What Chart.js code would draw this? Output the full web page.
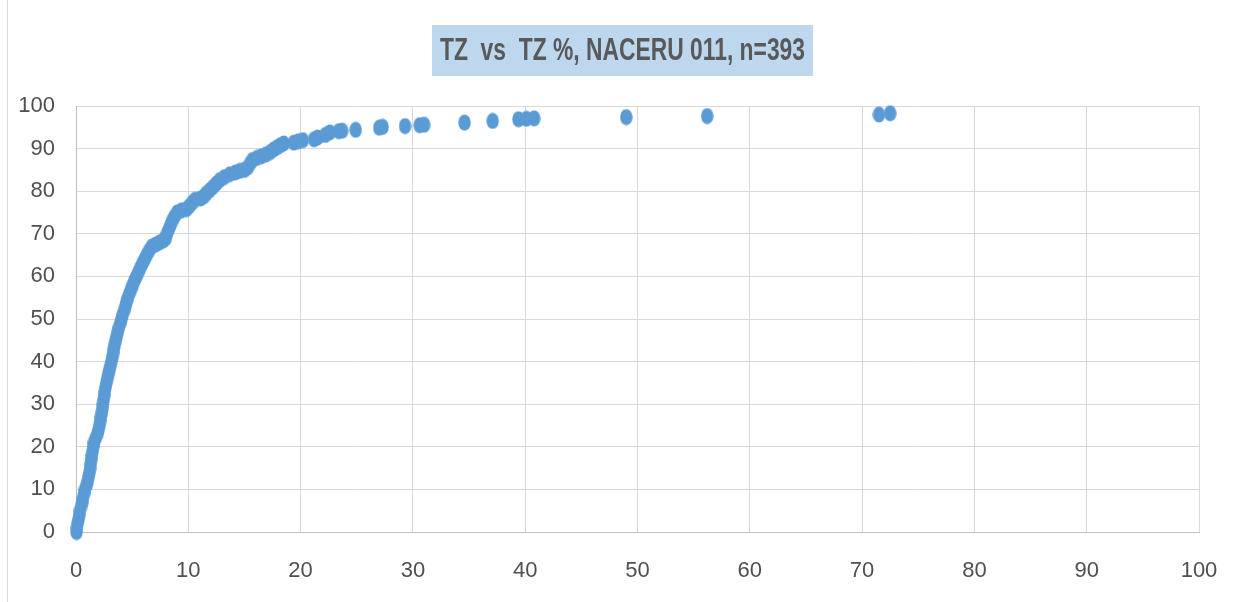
<!DOCTYPE html>
<html><head><meta charset="utf-8">
<script src="https://cdn.jsdelivr.net/npm/chart.js@4.4.1/dist/chart.umd.min.js"></script>
<style>html,body{margin:0;padding:0;background:#fff;overflow:hidden}#wrap{position:relative;width:1237px;height:602px}</style>
</head><body><div id="wrap"><canvas id="c" width="1237" height="602"></canvas></div>
<script>
const chartTitle = 'TZ  vs  TZ %, NACERU 011, n=393';
const xTickValues = [0,10,20,30,40,50,60,70,80,90,100];
const yTickValues = [0,10,20,30,40,50,60,70,80,90,100];
const tzValues = [0.05,0.08,0.15,0.22,0.28,0.35,0.45,0.55,0.62,0.72,0.8,0.95,1.05,1.12,1.2,1.25,1.3,1.35,1.42,1.48,
  1.52,1.6,1.75,1.9,2.0,2.08,2.15,2.22,2.3,2.35,2.4,2.45,2.5,2.57,2.63,2.7,2.78,2.86,2.95,3.05,
  3.15,3.22,3.3,3.38,3.46,3.55,3.63,3.72,3.82,3.93,4.05,4.15,4.28,4.4,4.5,4.62,4.75,4.9,5.05,5.2,
  5.38,5.55,5.72,5.9,6.1,6.3,6.5,6.75,7.1,7.45,7.8,8.0,8.1,8.25,8.4,8.55,8.75,9.0,9.4,9.85,
  10.1,10.35,10.6,11.1,11.4,11.6,11.9,12.2,12.5,12.8,13.2,13.7,14.2,14.6,15.0,15.3,15.5,15.7,16.1,16.5,
  16.9,17.3,17.6,17.9,18.2,18.5,19.4,19.8,20.2,21.2,21.5,22.2,22.6,23.4,23.7,24.9,27.0,27.3,29.3,30.6,
  31.0,34.6,37.1,39.4,40.1,40.8,49.0,56.2,71.5,72.5];
const tzPercent = [0,1,2,3,4,5,6,7,8,9,10,11,12,13,14,15,16,17,18,19,
  20,21,22,23,24,25,26,27,28,29,30,31,32,33,34,35,36,37,38,39,
  40,41,42,43,44,45,46,47,48,49,50,51,52,53,54,55,56,57,58,59,
  60,61,62,63,64,65,66,67,67.5,68,68.5,69,70,71,72,73,74,75,75.5,75.8,
  76.5,77.3,78,78.3,78.8,79.5,80.2,81,81.8,82.6,83.3,84,84.4,84.8,85,85.6,86.5,87.3,87.8,88.2,
  88.6,89.2,89.8,90.3,90.8,91.2,91.4,91.7,92.0,92.2,92.6,93.2,93.8,94.1,94.2,94.4,94.9,95.1,95.3,95.5,
  95.6,96.1,96.5,96.9,97.0,97.1,97.4,97.65,98.0,98.3];

const FONT = "'Liberation Sans', Arial, sans-serif";
const points = tzValues.map((x, i) => ({x: x, y: tzPercent[i]}));

// ellipse marker
const marker = document.createElement('canvas');
marker.width = 13; marker.height = 17;
(function(){ const m = marker.getContext('2d'); m.fillStyle = '#5B9BD5'; m.beginPath(); m.ellipse(6.5, 8.5, 6.2, 8.0, 0, 0, Math.PI*2); m.fill(); })();

const decor = {
  id: 'decor',
  beforeDraw(chart) {
    const ctx = chart.ctx;
    ctx.save();
    ctx.fillStyle = '#ffffff';
    ctx.fillRect(0, 0, chart.width, chart.height);
    ctx.strokeStyle = '#D9D9D9'; ctx.lineWidth = 1;
    ctx.beginPath(); ctx.moveTo(7.5, 0); ctx.lineTo(7.5, chart.height); ctx.stroke();
    // title box
    ctx.fillStyle = '#BDD7EE';
    ctx.fillRect(432, 25, 381, 51);
    ctx.font = 'bold 31px ' + FONT;
    const w = ctx.measureText(chartTitle).width;
    const target = 365;
    ctx.translate(622.5, 51);
    ctx.scale(target / w, 1);
    ctx.fillStyle = '#595959';
    ctx.textAlign = 'center'; ctx.textBaseline = 'middle';
    ctx.fillText(chartTitle, 0, 0);
    ctx.restore();
  }
};

new Chart(document.getElementById('c'), {
  type: 'scatter',
  data: { datasets: [{ label: 'TZ %', data: points, pointStyle: marker, pointRadius: 6, pointHoverRadius: 6, backgroundColor: '#5B9BD5', borderColor: '#5B9BD5', clip: false }] },
  options: {
    responsive: false, animation: false, devicePixelRatio: 1,
    layout: { padding: { top: 106, right: 38, bottom: 0, left: 0 } },
    plugins: { legend: { display: false }, tooltip: { enabled: false }, title: { display: false } },
    scales: {
      x: {
        type: 'linear', min: 0, max: 100,
        afterFit(s) { s.height = 70; s.paddingLeft = 0; s.paddingRight = 0; },
        afterBuildTicks(s) { s.ticks = xTickValues.map(v => ({value: v})); },
        grid: { color: '#D9D9D9', lineWidth: 1, drawTicks: false },
        border: { display: true, color: '#BFBFBF' },
        ticks: { padding: 26, color: '#505050', font: { family: FONT, size: 22 }, maxRotation: 0 }
      },
      y: {
        type: 'linear', min: 0, max: 100,
        afterFit(s) { s.width = 76; s.paddingTop = 0; s.paddingBottom = 0; },
        afterBuildTicks(s) { s.ticks = yTickValues.map(v => ({value: v})); },
        grid: { color: '#D9D9D9', lineWidth: 1, drawTicks: false },
        border: { display: true, color: '#BFBFBF' },
        ticks: { padding: 21, color: '#505050', font: { family: FONT, size: 22 } }
      }
    }
  },
  plugins: [decor]
});
</script></body></html>
